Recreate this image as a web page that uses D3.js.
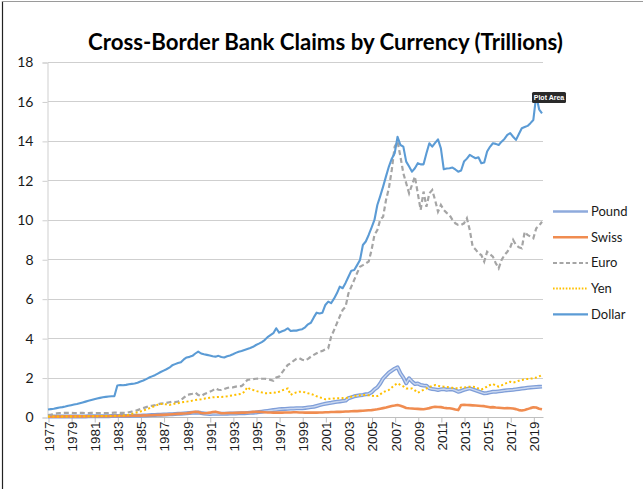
<!DOCTYPE html>
<html>
<head>
<meta charset="utf-8">
<script src="https://cdn.jsdelivr.net/npm/d3@7"></script>
<style>
  html, body { margin: 0; padding: 0; background: #fff; }
  svg { display: block; }
</style>
</head>
<body>
<svg id="chart" width="643" height="489"></svg>
<script>
// Quarterly cross-border bank claims by currency, trillions (1977 Q1 – 2019 Q4)
const startYear = 1977;
const yearTicks = d3.range(1977, 2020, 2);
const valueTicks = d3.range(0, 19, 2);
const seriesNames = ["Pound", "Swiss", "Euro", "Yen", "Dollar"];

const dollar = [
  0.38, 0.40, 0.42, 0.45,  0.48, 0.50, 0.53, 0.57,  0.60, 0.63, 0.66, 0.70,
  0.74, 0.78, 0.82, 0.86,  0.90, 0.94, 0.97, 1.00,  1.02, 1.04, 1.05, 1.06,
  1.60, 1.62, 1.61, 1.63,  1.66, 1.68, 1.70, 1.74,  1.80, 1.85, 1.92, 2.00,
  2.06, 2.12, 2.20, 2.28,  2.35, 2.42, 2.50, 2.62,  2.68, 2.74, 2.78, 2.92,
  3.02, 3.05, 3.10, 3.22,  3.32, 3.22, 3.18, 3.15,  3.12, 3.08, 3.06, 3.10,
  3.04, 3.02, 3.08, 3.12,  3.18, 3.25, 3.31, 3.35,  3.40, 3.45, 3.50, 3.56,
  3.65, 3.72, 3.80, 3.90,  4.05, 4.15, 4.25, 4.50,  4.28, 4.35, 4.40, 4.50,
  4.36, 4.38, 4.38, 4.42,  4.45, 4.55, 4.70, 4.78,  5.05, 5.29, 5.25, 5.29,
  5.68, 5.85, 5.77, 6.00,  6.27, 6.61, 6.53, 6.80,  7.11, 7.42, 7.45, 7.70,
  7.96, 8.72, 8.90, 9.23,  9.60, 9.99, 10.75, 11.20,  11.68, 12.20, 12.70, 13.10,
  13.37, 14.21, 13.79, 13.71,  12.95, 12.70, 12.44, 12.61,  12.87, 12.81, 12.81, 13.37,
  13.88, 13.71, 13.90, 14.08,  13.62, 12.56, 12.60, 12.61,  12.65, 12.55, 12.44, 12.50,
  12.95, 13.10, 13.29, 13.20,  13.12, 13.17, 12.87, 12.90,  13.46, 13.70, 13.88, 13.85,
  13.79, 13.96, 14.10, 14.30,  14.39, 14.21, 14.05, 14.35,  14.64, 14.70, 14.76, 14.90,
  15.06, 16.30, 15.60, 15.40
];

const euro = [
  0.10, 0.12, 0.15, 0.18,  0.20, 0.20, 0.21, 0.21,  0.21, 0.20, 0.20, 0.21,
  0.21, 0.20, 0.20, 0.21,  0.20, 0.20, 0.20, 0.20,  0.20, 0.20, 0.21, 0.22,
  0.22, 0.21, 0.21, 0.22,  0.24, 0.27, 0.30, 0.35,  0.40, 0.45, 0.50, 0.55,
  0.57, 0.60, 0.64, 0.68,  0.69, 0.72, 0.75, 0.78,  0.76, 0.78, 0.85, 0.98,
  1.10, 1.15, 1.18, 1.23,  1.12, 1.06, 1.15, 1.22,  1.28, 1.35, 1.45, 1.38,
  1.37, 1.42, 1.47, 1.51,  1.50, 1.54, 1.57, 1.57,  1.70, 1.88, 1.90, 1.92,
  1.94, 1.95, 1.94, 1.94,  1.92, 1.88, 1.84, 2.00,  2.05, 2.25, 2.45, 2.64,
  2.72, 2.85, 2.95, 2.98,  2.90, 2.86, 2.95, 3.06,  3.15, 3.23, 3.31, 3.35,
  3.43, 3.48, 4.07, 4.40,  4.75, 5.10, 5.43, 5.59,  6.27, 6.61, 6.95, 7.30,
  7.62, 7.70, 7.79, 7.88,  8.47, 9.23, 9.48, 10.00,  10.16, 11.00, 11.60, 12.53,
  13.71, 13.96, 13.20, 12.36,  11.85, 11.34, 11.77, 12.19,  11.34, 10.50, 11.43, 10.66,
  11.34, 11.51, 11.00, 10.41,  10.75, 10.50, 10.35, 10.24,  10.00, 9.82, 9.74, 9.74,
  9.82, 10.08, 9.48, 8.64,  8.50, 8.30, 8.21, 7.88,  8.38, 8.25, 8.13, 7.80,
  7.54, 7.96, 8.21, 8.38,  8.60, 8.98, 8.72, 8.60,  8.55, 9.39, 9.23, 9.15,
  9.06, 9.57, 9.70, 9.90
];

const pound = [
  0.02, 0.02, 0.02, 0.02,  0.02, 0.02, 0.03, 0.03,  0.03, 0.03, 0.03, 0.03,
  0.03, 0.03, 0.04, 0.04,  0.04, 0.04, 0.04, 0.04,  0.04, 0.04, 0.05, 0.05,
  0.05, 0.05, 0.05, 0.05,  0.05, 0.06, 0.06, 0.06,  0.06, 0.07, 0.08, 0.09,
  0.10, 0.10, 0.11, 0.12,  0.13, 0.13, 0.14, 0.14,  0.15, 0.16, 0.17, 0.18,
  0.19, 0.20, 0.21, 0.22,  0.23, 0.20, 0.18, 0.16,  0.15, 0.16, 0.17, 0.16,
  0.17, 0.16, 0.17, 0.18,  0.18, 0.18, 0.19, 0.19,  0.19, 0.20, 0.21, 0.22,
  0.23, 0.25, 0.27, 0.29,  0.31, 0.33, 0.35, 0.37,  0.39, 0.40, 0.41, 0.42,
  0.43, 0.43, 0.44, 0.44,  0.44, 0.46, 0.48, 0.50,  0.52, 0.56, 0.60, 0.64,
  0.67, 0.70, 0.72, 0.75,  0.77, 0.79, 0.81, 0.83,  0.95, 1.00, 1.05, 1.08,
  1.10, 1.12, 1.15, 1.17,  1.25, 1.40, 1.50, 1.70,  1.95, 2.10, 2.25, 2.35,
  2.45, 2.52, 2.21, 2.00,  1.71, 1.96, 1.80, 1.67,  1.70, 1.62, 1.60, 1.59,
  1.45, 1.42, 1.40, 1.37,  1.40, 1.42, 1.38, 1.40,  1.40, 1.35, 1.28, 1.32,
  1.38, 1.42, 1.45, 1.40,  1.35, 1.30, 1.25, 1.20,  1.22, 1.25, 1.28, 1.28,
  1.30, 1.32, 1.34, 1.36,  1.37, 1.38, 1.40, 1.42,  1.44, 1.46, 1.48, 1.50,
  1.51, 1.52, 1.53, 1.54
];

const swiss = [
  0.02, 0.02, 0.02, 0.02,  0.02, 0.02, 0.03, 0.03,  0.03, 0.03, 0.03, 0.03,
  0.03, 0.03, 0.04, 0.04,  0.04, 0.04, 0.04, 0.04,  0.04, 0.04, 0.05, 0.05,
  0.05, 0.05, 0.05, 0.05,  0.05, 0.06, 0.06, 0.07,  0.07, 0.08, 0.08, 0.09,
  0.09, 0.10, 0.10, 0.11,  0.11, 0.12, 0.13, 0.14,  0.15, 0.16, 0.17, 0.18,
  0.19, 0.21, 0.24, 0.27,  0.25, 0.20, 0.19, 0.20,  0.22, 0.25, 0.27, 0.23,
  0.19, 0.19, 0.20, 0.20,  0.20, 0.21, 0.21, 0.22,  0.22, 0.23, 0.24, 0.26,
  0.27, 0.26, 0.25, 0.24,  0.23, 0.23, 0.22, 0.22,  0.22, 0.22, 0.23, 0.23,
  0.23, 0.24, 0.24, 0.23,  0.23, 0.22, 0.22, 0.22,  0.22, 0.22, 0.23, 0.23,
  0.24, 0.24, 0.25, 0.25,  0.26, 0.26, 0.27, 0.28,  0.28, 0.29, 0.30, 0.30,
  0.31, 0.32, 0.33, 0.34,  0.35, 0.37, 0.39, 0.42,  0.45, 0.48, 0.52, 0.56,
  0.58, 0.61, 0.57, 0.52,  0.46, 0.44, 0.43, 0.42,  0.41, 0.40, 0.39, 0.42,
  0.45, 0.49, 0.52, 0.51,  0.50, 0.47, 0.45, 0.44,  0.42, 0.38, 0.35, 0.61,
  0.62, 0.61, 0.60, 0.59,  0.58, 0.57, 0.56, 0.55,  0.52, 0.49, 0.50, 0.48,
  0.47, 0.46, 0.44, 0.45,  0.44, 0.43, 0.40, 0.35,  0.33, 0.36, 0.40, 0.45,
  0.49, 0.48, 0.42, 0.39
];

const yen = [
  0.02, 0.02, 0.02, 0.02,  0.02, 0.03, 0.03, 0.03,  0.03, 0.03, 0.03, 0.04,
  0.04, 0.04, 0.04, 0.04,  0.04, 0.04, 0.05, 0.05,  0.05, 0.05, 0.05, 0.06,
  0.06, 0.07, 0.08, 0.09,  0.12, 0.16, 0.20, 0.24,  0.28, 0.33, 0.38, 0.44,
  0.50, 0.56, 0.62, 0.66,  0.66, 0.64, 0.61, 0.64,  0.68, 0.70, 0.73, 0.76,
  0.78, 0.80, 0.83, 0.86,  0.88, 0.90, 0.93, 0.96,  0.98, 1.00, 1.01, 1.02,
  1.02, 1.03, 1.05, 1.08,  1.10, 1.13, 1.15, 1.18,  1.28, 1.51, 1.40, 1.37,
  1.32, 1.28, 1.25, 1.20,  1.20, 1.22, 1.25, 1.23,  1.28, 1.35, 1.40, 1.45,
  1.12, 1.20, 1.25, 1.28,  1.28, 1.25, 1.20, 1.17,  1.12, 1.05, 1.00, 0.95,
  0.90, 0.92, 0.93, 0.94,  0.95, 0.95, 0.96, 0.95,  1.00, 1.03, 1.06, 1.08,
  1.10, 1.12, 1.12, 1.10,  1.08, 1.06, 1.06, 1.15,  1.25, 1.32, 1.37, 1.50,
  1.62, 1.71, 1.62, 1.55,  1.45, 1.45, 1.45, 1.35,  1.23, 1.30, 1.38, 1.45,
  1.52, 1.58, 1.62, 1.58,  1.55, 1.54, 1.52, 1.50,  1.48, 1.46, 1.45, 1.50,
  1.50, 1.52, 1.54, 1.54,  1.52, 1.45, 1.40, 1.45,  1.55, 1.62, 1.67, 1.60,
  1.54, 1.60, 1.68, 1.74,  1.79, 1.75, 1.78, 1.84,  1.88, 1.91, 1.93, 1.95,
  1.96, 2.00, 2.06, 2.13
];

const svg = d3.select("#chart");
const font = "Lato, 'Open Sans', sans-serif";

// page frame
svg.append("line").attr("x1", 2.5).attr("x2", 2.5).attr("y1", 1).attr("y2", 489)
  .attr("stroke", "#222").attr("stroke-width", 1.2);
svg.append("line").attr("x1", 2).attr("x2", 643).attr("y1", 1.5).attr("y2", 1.5)
  .attr("stroke", "#9a9a9a").attr("stroke-width", 1);

const x = d3.scaleLinear().domain([startYear, startYear + (dollar.length - 1) / 4]).range([48, 542]);
const y = d3.scaleLinear().domain([0, 18]).range([417, 62]);

// title
const title = svg.append("text")
  .attr("x", 325.5).attr("y", 50)
  .attr("text-anchor", "middle")
  .attr("font-family", font).attr("font-weight", 700)
  .attr("font-size", 22).attr("fill", "#000")
  .text("Cross-Border Bank Claims by Currency (Trillions)");
const tw = title.node().getComputedTextLength();
title.attr("font-size", 22 * 475 / tw);

// horizontal gridlines
svg.append("g").selectAll("line").data(valueTicks.filter(d => d > 0)).join("line")
  .attr("x1", 48).attr("x2", 543)
  .attr("y1", d => Math.round(y(d)) + 0.5).attr("y2", d => Math.round(y(d)) + 0.5)
  .attr("stroke", "#cfcfcf").attr("stroke-width", 1);

// y axis
const yAxis = svg.append("g").attr("transform", "translate(47.5,0.5)")
  .call(d3.axisLeft(y).tickValues(valueTicks).tickSize(5).tickPadding(9));
yAxis.select(".domain").attr("stroke", "#cfcfcf");
yAxis.selectAll(".tick line").attr("stroke", "#cfcfcf");
yAxis.selectAll(".tick text").attr("font-family", font).attr("font-size", 14).attr("fill", "#1a1a1a");

// x axis
const xAxis = svg.append("g").attr("transform", "translate(0.5,417.5)")
  .call(d3.axisBottom(x).tickValues(yearTicks).tickFormat(d3.format("d")).tickSize(5).tickSizeOuter(0));
xAxis.select(".domain").attr("stroke", "#bfbfbf").attr("d", "M47.5,0H543");
xAxis.selectAll(".tick line").attr("stroke", "#bfbfbf");
xAxis.selectAll(".tick text")
  .attr("font-family", "'Liberation Sans', Arial, sans-serif").attr("font-size", 13.5).attr("fill", "#1a1a1a")
  .attr("text-anchor", "end")
  .attr("transform", "rotate(-90)")
  .attr("x", -4).attr("y", 0).attr("dy", "0.36em");

const t = i => startYear + i / 4;
const line = d3.line().x((d, i) => x(t(i))).y(d => y(d)).curve(d3.curveLinear);

const plot = svg.append("g");

// series, drawn back to front
plot.append("path").datum(pound).attr("d", line).attr("fill", "none")
  .attr("stroke", "#7f9ed8").attr("stroke-width", 4).attr("stroke-linejoin", "round");
plot.append("path").datum(pound).attr("d", line).attr("fill", "none")
  .attr("stroke", "#c9d7f0").attr("stroke-width", 1.4).attr("stroke-linejoin", "round");

plot.append("path").datum(swiss).attr("d", line).attr("fill", "none")
  .attr("stroke", "#f08c50").attr("stroke-width", 2.6).attr("stroke-linejoin", "round");

plot.append("path").datum(euro).attr("d", line).attr("fill", "none")
  .attr("stroke", "#a5a5a5").attr("stroke-width", 2.2).attr("stroke-dasharray", "5,3");

plot.append("path").datum(yen).attr("d", line).attr("fill", "none")
  .attr("stroke", "#ffc000").attr("stroke-width", 2).attr("stroke-dasharray", "2,2.4");

plot.append("path").datum(dollar).attr("d", line).attr("fill", "none")
  .attr("stroke", "#5b9bd5").attr("stroke-width", 2.1).attr("stroke-linejoin", "round");

// legend
const legendStyles = {
  Pound:  { stroke: "#8eaadc", width: 2.6, dash: null },
  Swiss:  { stroke: "#f08c50", width: 2.4, dash: null },
  Euro:   { stroke: "#a5a5a5", width: 2, dash: "4,2.5" },
  Yen:    { stroke: "#ffc000", width: 2, dash: "1.6,1.6" },
  Dollar: { stroke: "#5b9bd5", width: 2.2, dash: null }
};
const legend = svg.append("g");
const rows = legend.selectAll("g").data(seriesNames).join("g")
  .attr("transform", (d, i) => `translate(0,${211.5 + i * 25.7})`);
rows.append("line").attr("x1", 553).attr("x2", 588).attr("y1", 0).attr("y2", 0)
  .attr("stroke", d => legendStyles[d].stroke)
  .attr("stroke-width", d => legendStyles[d].width)
  .attr("stroke-dasharray", d => legendStyles[d].dash);
rows.append("text").attr("x", 591).attr("y", 0).attr("dy", "0.35em")
  .attr("font-family", font).attr("font-size", 13).attr("fill", "#1a1a1a")
  .text(d => d);

// selection hint over the plot area
const hint = svg.append("g").attr("transform", "translate(532,92)");
hint.append("rect").attr("width", 34).attr("height", 11).attr("rx", 1.5).attr("fill", "#2a2a2a");
hint.append("text").attr("x", 17).attr("y", 5.8).attr("dy", "0.33em").attr("text-anchor", "middle")
  .attr("font-family", "'Liberation Sans', Arial, sans-serif").attr("font-size", 7).attr("font-weight", 700)
  .attr("fill", "#fff").text("Plot Area");
</script>
</body>
</html>
